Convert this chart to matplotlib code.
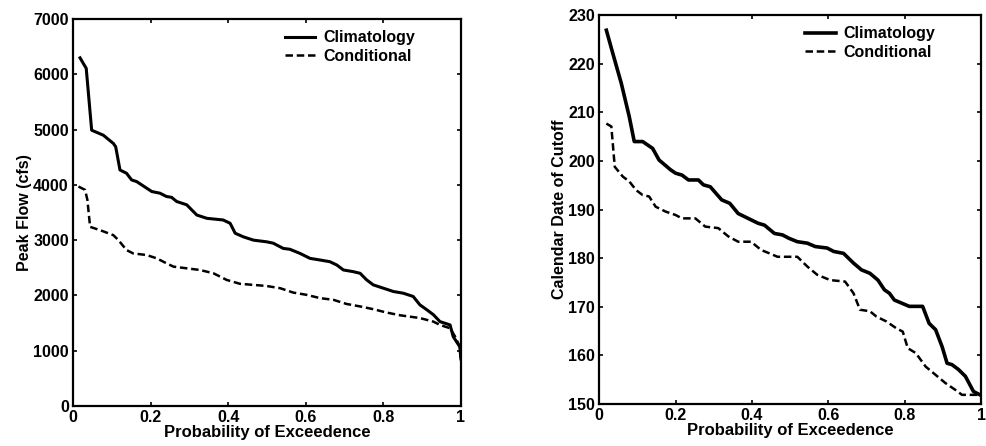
import matplotlib
matplotlib.use("Agg")
import matplotlib.pyplot as plt
from matplotlib.ticker import FuncFormatter

plt.rcParams['font.family'] = ['Liberation Sans', 'DejaVu Sans']
plt.rcParams['font.weight'] = 'bold'

# Peak flow panel
flow_clim_p = [0.018, 0.034, 0.048, 0.078, 0.104, 0.110, 0.121, 0.138, 0.151, 0.164,
               0.203, 0.224, 0.241, 0.254, 0.267, 0.293, 0.319, 0.345, 0.387, 0.405,
               0.418, 0.439, 0.465, 0.499, 0.516, 0.542, 0.559, 0.585, 0.611, 0.637,
               0.662, 0.680, 0.697, 0.722, 0.740, 0.757, 0.774, 0.800, 0.826, 0.851,
               0.877, 0.894, 0.912, 0.929, 0.946, 0.972, 0.980, 0.997, 1.000]
flow_clim = [6300, 6110, 4990, 4900, 4750, 4690, 4270, 4210, 4090, 4060,
             3880, 3850, 3790, 3775, 3700, 3640, 3455, 3395, 3365, 3305,
             3125, 3060, 3000, 2970, 2945, 2850, 2835, 2760, 2670, 2640,
             2610, 2550, 2460, 2430, 2400, 2280, 2190, 2130, 2070, 2040,
             1980, 1830, 1740, 1650, 1525, 1465, 1255, 1070, 850]

flow_cond_p = [0.014, 0.031, 0.037, 0.044, 0.070, 0.104, 0.117, 0.138, 0.155, 0.190,
               0.216, 0.241, 0.259, 0.293, 0.327, 0.362, 0.396, 0.430, 0.465, 0.499,
               0.534, 0.568, 0.602, 0.637, 0.671, 0.705, 0.740, 0.774, 0.808, 0.843,
               0.894, 0.929, 0.946, 0.972, 0.985, 0.997, 1.000]
flow_cond = [3970, 3910, 3730, 3240, 3180, 3090, 3000, 2820, 2760, 2730,
             2670, 2580, 2520, 2490, 2460, 2400, 2280, 2210, 2190, 2170,
             2130, 2050, 2010, 1950, 1920, 1845, 1800, 1750, 1690, 1640,
             1590, 1525, 1465, 1405, 1255, 1070, 850]

# Cutoff date panel
date_clim_p = [0.019, 0.036, 0.058, 0.079, 0.092, 0.114, 0.140, 0.157, 0.187, 0.200,
               0.217, 0.234, 0.260, 0.273, 0.291, 0.321, 0.342, 0.364, 0.390, 0.416,
               0.433, 0.459, 0.480, 0.497, 0.519, 0.545, 0.566, 0.597, 0.614, 0.640,
               0.666, 0.687, 0.709, 0.730, 0.747, 0.760, 0.773, 0.791, 0.812, 0.847,
               0.864, 0.881, 0.898, 0.911, 0.924, 0.941, 0.959, 0.980, 0.997]
date_clim = [226.9, 222.1, 216.0, 209.1, 204.0, 204.0, 202.6, 200.2, 198.2, 197.5,
             197.1, 196.1, 196.1, 195.1, 194.7, 192.0, 191.3, 189.2, 188.2, 187.2,
             186.8, 185.1, 184.8, 184.1, 183.4, 183.1, 182.4, 182.1, 181.4, 181.0,
             179.0, 177.6, 176.9, 175.5, 173.5, 172.8, 171.4, 170.8, 170.1, 170.1,
             166.6, 165.3, 161.8, 158.4, 158.1, 157.1, 155.7, 152.6, 151.9]

date_cond_p = [0.019, 0.032, 0.041, 0.062, 0.079, 0.097, 0.114, 0.131, 0.148, 0.174,
               0.200, 0.217, 0.252, 0.278, 0.312, 0.338, 0.364, 0.398, 0.424, 0.446,
               0.467, 0.519, 0.545, 0.571, 0.605, 0.644, 0.666, 0.683, 0.709, 0.726,
               0.752, 0.778, 0.795, 0.808, 0.829, 0.855, 0.881, 0.907, 0.933, 0.950,
               0.976, 0.997]
date_cond = [207.7, 207.1, 198.8, 196.8, 195.8, 194.0, 193.0, 192.7, 190.6, 189.6,
             188.9, 188.2, 188.2, 186.5, 186.2, 184.5, 183.4, 183.4, 181.7, 181.0,
             180.3, 180.3, 178.3, 176.6, 175.5, 175.2, 172.8, 169.4, 169.1, 168.0,
             167.0, 165.6, 164.9, 161.5, 160.5, 157.7, 156.0, 154.3, 152.9, 151.9,
             151.9, 151.9]

x_ticks = [0, 0.2, 0.4, 0.6, 0.8, 1]

fig = plt.figure(figsize=(9.87, 4.46), dpi=100)
ax1 = fig.add_axes([0.074, 0.090, 0.393, 0.867])
ax2 = fig.add_axes([0.607, 0.094, 0.387, 0.872])


def style(ax, ylabel, ylim, yticks):
    ax.set_xlim(0, 1)
    ax.set_ylim(*ylim)
    ax.set_xticks(x_ticks)
    ax.set_yticks(yticks)
    ax.xaxis.set_major_formatter(FuncFormatter(lambda v, p: '%g' % v))
    ax.tick_params(direction='in', length=3, width=1.2, top=True, right=True,
                   labelsize=11.5)
    ax.tick_params(axis='x', pad=3)
    ax.tick_params(axis='y', pad=3)
    for s in ax.spines.values():
        s.set_linewidth(1.6)
    ax.set_xlabel('Probability of Exceedence', fontsize=12, fontweight='bold', labelpad=0)
    ax.set_ylabel(ylabel, fontsize=11.5, fontweight='bold', labelpad=1)
    leg = ax.legend(loc='upper right', bbox_to_anchor=(0.91, 1.0), frameon=False,
                    fontsize=11.5, handlelength=1.9, handletextpad=0.5,
                    labelspacing=0.2, borderaxespad=0.3)
    for t in leg.get_texts():
        t.set_fontweight('bold')


ax1.plot(flow_clim_p, flow_clim, color='black', lw=2.2, label='Climatology')
ax1.plot(flow_cond_p, flow_cond, color='black', lw=1.8, ls='--', dashes=(3, 1.5),
         label='Conditional')
style(ax1, 'Peak Flow (cfs)', (0, 7000), range(0, 7001, 1000))

ax2.plot(date_clim_p, date_clim, color='black', lw=2.6, label='Climatology')
ax2.plot(date_cond_p, date_cond, color='black', lw=1.8, ls='--', dashes=(3, 1.5),
         label='Conditional')
style(ax2, 'Calendar Date of Cutoff', (150, 230), range(150, 231, 10))

fig.savefig('out.png', dpi=100)
